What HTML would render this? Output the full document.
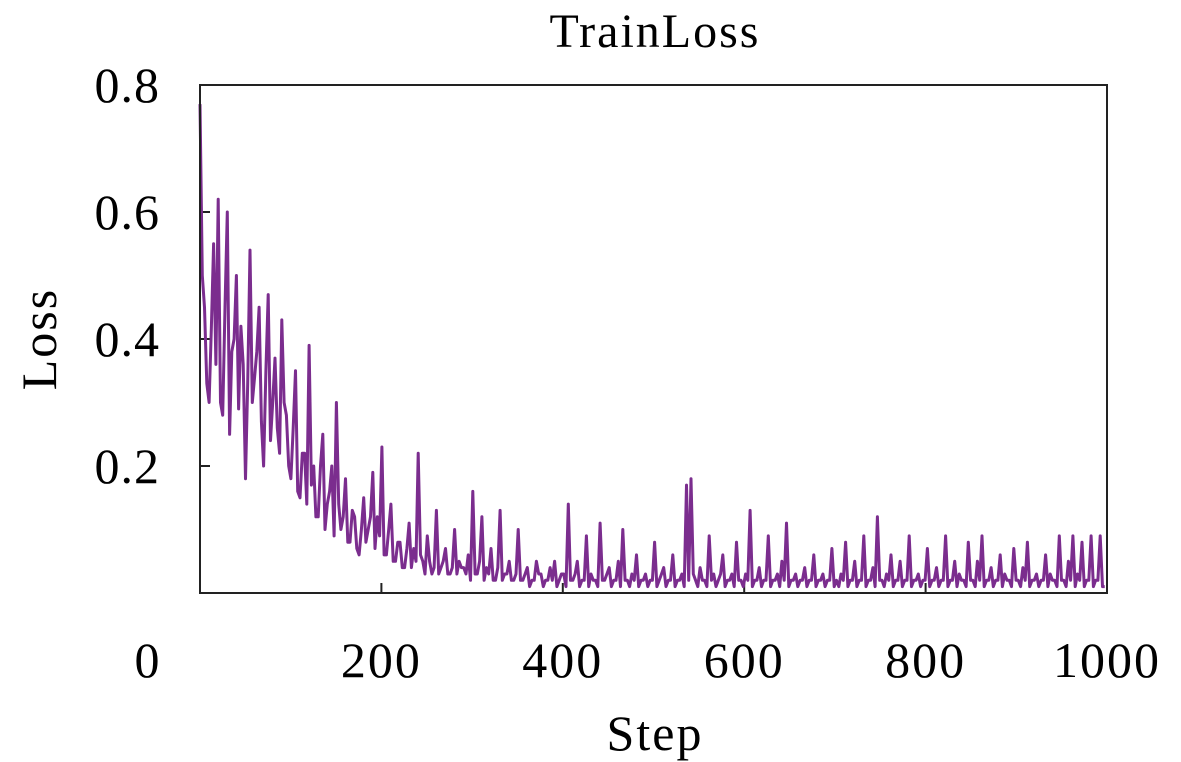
<!DOCTYPE html>
<html><head><meta charset="utf-8"><style>
html,body{margin:0;padding:0;background:#fff;}
svg{display:block;font-family:"Liberation Serif",serif;}
</style></head><body>
<svg id="chart" width="1181" height="762">
<text x="655" y="47" font-size="48" text-anchor="middle" letter-spacing="2">TrainLoss</text>
<text x="0" y="0" font-size="50" text-anchor="middle" letter-spacing="2" transform="translate(56,339) rotate(-90)">Loss</text>
<text x="655" y="750" font-size="50" text-anchor="middle" letter-spacing="2">Step</text>
<g id="ticks"></g>
<path id="line" fill="none" stroke="#7b2d8e" stroke-width="3" stroke-linejoin="round"></path>
<rect x="200" y="85" width="907" height="508" fill="none" stroke="#222" stroke-width="2"></rect>
</svg>
<script>
const stepInterval = 5;
const lossValues = [
0.77,0.45,0.3,0.55,0.62,0.28,0.6,0.38,0.5,0.42,0.18,0.54,0.34,0.45,0.2,0.47,0.3,0.26,0.43,0.28,
0.18,0.35,0.15,0.22,0.39,0.2,0.12,0.25,0.14,0.2,0.3,0.1,0.18,0.08,0.12,0.06,0.15,0.1,0.19,0.12,
0.23,0.06,0.14,0.05,0.08,0.04,0.11,0.07,0.22,0.05,0.09,0.03,0.13,0.04,0.07,0.03,0.1,0.05,0.04,0.06,
0.16,0.03,0.12,0.04,0.07,0.02,0.13,0.03,0.05,0.02,0.1,0.02,0.04,0.02,0.05,0.03,0.02,0.04,0.05,0.02,
0.03,0.14,0.02,0.05,0.02,0.09,0.03,0.02,0.11,0.02,0.04,0.02,0.05,0.1,0.02,0.03,0.06,0.02,0.03,0.02,
0.08,0.02,0.04,0.02,0.06,0.02,0.03,0.17,0.18,0.02,0.04,0.02,0.09,0.03,0.02,0.06,0.02,0.03,0.08,0.02,
0.03,0.13,0.02,0.04,0.02,0.09,0.02,0.03,0.05,0.11,0.02,0.03,0.02,0.04,0.02,0.06,0.02,0.03,0.02,0.07,
0.02,0.03,0.08,0.02,0.05,0.02,0.09,0.02,0.04,0.12,0.02,0.03,0.06,0.02,0.05,0.02,0.09,0.02,0.03,0.02,
0.07,0.02,0.04,0.02,0.09,0.02,0.05,0.03,0.02,0.08,0.02,0.05,0.09,0.02,0.04,0.02,0.06,0.03,0.02,0.07,
0.02,0.04,0.08,0.02,0.03,0.02,0.06,0.03,0.02,0.09,0.02,0.05,0.09,0.03,0.08,0.02,0.09,0.02,0.09,0.01];
const troughValues = [
0.5,0.33,0.42,0.36,0.3,0.45,0.25,0.4,0.29,0.36,0.33,0.3,0.38,0.27,0.35,0.24,0.37,0.22,0.3,0.2,
0.26,0.16,0.22,0.14,0.17,0.12,0.2,0.1,0.16,0.09,0.14,0.12,0.08,0.13,0.07,0.1,0.08,0.12,0.07,0.09,
0.06,0.1,0.05,0.08,0.04,0.07,0.04,0.05,0.06,0.03,0.05,0.04,0.03,0.05,0.03,0.04,0.03,0.04,0.03,0.02,
0.03,0.05,0.02,0.03,0.02,0.04,0.02,0.03,0.02,0.03,0.02,0.03,0.01,0.02,0.03,0.01,0.02,0.02,0.01,0.03,
0.01,0.02,0.03,0.01,0.02,0.01,0.02,0.01,0.02,0.03,0.01,0.02,0.01,0.02,0.01,0.02,0.01,0.02,0.01,0.02,
0.01,0.03,0.01,0.02,0.01,0.02,0.01,0.02,0.03,0.01,0.02,0.01,0.02,0.01,0.03,0.01,0.02,0.01,0.02,0.01,
0.02,0.01,0.02,0.01,0.02,0.01,0.02,0.01,0.02,0.01,0.02,0.01,0.02,0.01,0.02,0.01,0.02,0.01,0.02,0.01,
0.01,0.02,0.01,0.02,0.01,0.02,0.01,0.02,0.01,0.02,0.01,0.02,0.01,0.02,0.01,0.02,0.01,0.02,0.01,0.02,
0.01,0.02,0.01,0.02,0.01,0.02,0.01,0.02,0.01,0.02,0.01,0.02,0.01,0.02,0.01,0.02,0.01,0.02,0.01,0.02,
0.01,0.02,0.01,0.02,0.01,0.02,0.01,0.02,0.01,0.02,0.01,0.02,0.01,0.02,0.01,0.02,0.01,0.02,0.01,0.01];
const xTicks = [0,200,400,600,800,1000];
const yTicks = [0.2,0.4,0.6,0.8];
const yTickLabels = ["0.2","0.4","0.6","0.8"];
const X0=200,X1=1107,Y0=593,Y1=85;
const sx = v => X0 + (v/1000)*(X1-X0);
const sy = v => Y0 - (v/0.8)*(Y0-Y1);
const NS="http://www.w3.org/2000/svg";
const g=document.getElementById('ticks');
xTicks.forEach(t=>{
  const l=document.createElementNS(NS,'line');
  l.setAttribute('x1',sx(t));l.setAttribute('x2',sx(t));l.setAttribute('y1',Y0);l.setAttribute('y2',Y0-10);
  l.setAttribute('stroke','#222');l.setAttribute('stroke-width','2');
  
  
  g.appendChild(l);
  const tx=document.createElementNS(NS,'text');
  tx.setAttribute('x', t===0 ? 148 : sx(t)); tx.setAttribute('y',677);
  tx.setAttribute('font-size','50');tx.setAttribute('text-anchor','middle');tx.setAttribute('letter-spacing','2');
  tx.textContent=String(t);
  
  
  g.appendChild(tx);
});
yTicks.forEach((t,i)=>{
  const l=document.createElementNS(NS,'line');
  l.setAttribute('x1',X0);l.setAttribute('x2',X0+10);l.setAttribute('y1',sy(t));l.setAttribute('y2',sy(t));
  l.setAttribute('stroke','#222');l.setAttribute('stroke-width','2');
  
  
  g.appendChild(l);
  const tx=document.createElementNS(NS,'text');
  tx.setAttribute('x',160);tx.setAttribute('y',sy(t)+17);
  tx.setAttribute('font-size','50');tx.setAttribute('text-anchor','end');tx.setAttribute('letter-spacing','1');
  tx.textContent=yTickLabels[i];
  
  
  g.appendChild(tx);
});
let d='';
const scale = 1000/(lossValues.length*stepInterval - stepInterval/2);
lossValues.forEach((v,i)=>{
  const s=i*stepInterval;
  d+=(i?'L':'M')+sx(s*scale).toFixed(1)+','+sy(v).toFixed(1);
  if(i<lossValues.length-1) d+='L'+sx((s+stepInterval/2)*scale).toFixed(1)+','+sy(troughValues[i]).toFixed(1);
});
document.getElementById('line').setAttribute('d',d);
</script>
</body></html>
